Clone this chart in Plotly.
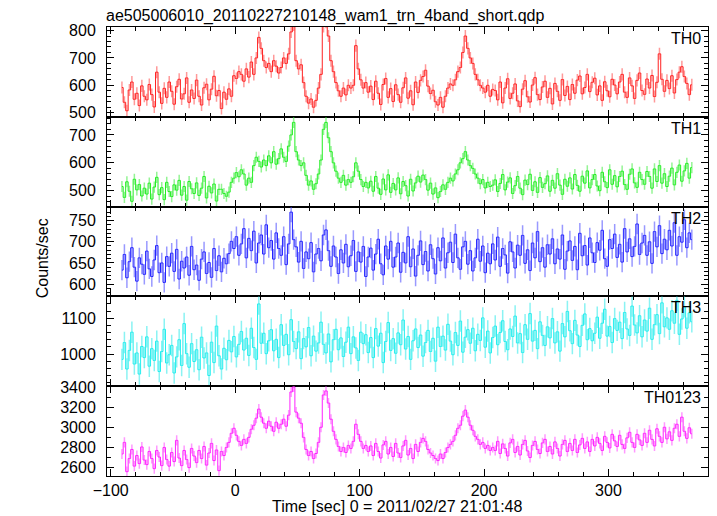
import plotly.graph_objects as go
from plotly.subplots import make_subplots

title_text = "ae505006010_20110227210148_wam1_trn_4band_short.qdp"
x_title = "Time [sec] 0 = 2011/02/27 21:01:48"
y_title = "Counts/sec"
band_names = ["TH0", "TH1", "TH2", "TH3", "TH0123"]

# time bins: first bin centre and bin width [sec]
t_first = -91
bin_width = 2

th0 = [
    592, 538, 507, 583, 612, 549, 571, 526, 598, 560,
    547, 603, 566, 521, 648, 575, 534, 589, 556, 612,
    578, 531, 595, 622, 550, 569, 627, 538, 583, 552,
    619, 560, 528, 591, 604, 547, 586, 633, 562, 581,
    515, 575, 549, 587, 560, 635, 625, 650, 640, 615,
    660, 630, 685, 640, 700, 775, 735, 690, 665, 680,
    650, 690, 670, 645, 665, 700, 680, 715, 795, 820,
    690, 660, 675, 610, 560, 535, 550, 520, 545, 590,
    640, 815, 830, 780, 690, 650, 610, 580, 560, 590,
    565, 600, 590, 600, 745, 660, 620, 590, 610, 575,
    597, 548, 615, 571, 530, 603, 625, 556, 588, 541,
    602, 566, 538, 591, 627, 553, 580, 529, 612, 574,
    618, 632, 655, 597, 570, 582, 540, 528, 556, 520,
    560, 590, 605, 600, 620, 650, 665, 720, 780, 735,
    700, 680, 640, 620, 600, 590, 575, 600, 560, 585,
    581, 547, 612, 536, 590, 624, 552, 571, 605, 543,
    522, 586, 617, 558, 539, 601, 628, 566, 548, 594,
    615, 556, 589, 532, 607, 578, 545, 621, 563, 596,
    548, 603, 571, 619, 634, 569, 592, 640, 577, 611,
    626, 565, 598, 545, 613, 580, 558, 622, 601, 569,
    612, 640, 575, 556, 627, 598, 552, 618, 645, 581,
    567, 623, 590, 636, 559, 611, 715, 622, 578, 618,
    588, 635, 572, 621, 648, 668, 632, 607, 566, 602,
]

th1 = [
    515, 476, 532, 498, 462, 541, 503, 522, 481, 509,
    488, 527, 470, 513, 548, 486, 511, 468, 530, 497,
    479, 521, 502, 537, 484, 515, 466, 533, 507, 490,
    528, 483, 509, 551, 474, 516, 492, 524, 463, 505,
    505, 490, 480, 495, 530, 545, 565, 550, 575, 560,
    520, 545, 530, 590, 620, 605, 585, 610, 590, 625,
    600, 640, 595, 615, 650, 620, 605, 660, 700, 745,
    640, 610, 590, 600, 555, 520, 535, 505, 525, 560,
    610, 720, 745, 690, 640, 600, 570, 545, 530, 555,
    520, 540, 530, 550, 600, 570, 540, 515, 530, 510,
    534, 498, 551, 509, 487, 542, 503, 557, 494, 526,
    503, 546, 489, 533, 518, 481, 541, 499, 528, 552,
    531, 556, 540, 502, 527, 488, 510, 475, 497, 521,
    505, 530, 545, 535, 560, 575, 600, 615, 640, 610,
    590, 580, 560, 545, 525, 540, 510, 530, 515, 520,
    539, 497, 526, 558, 503, 531, 546, 490, 518, 551,
    509, 486, 538, 522, 559, 501, 532, 494, 547, 512,
    525, 553, 498, 537, 509, 561, 520, 487, 541, 516,
    546, 506, 558, 519, 498, 552, 527, 571, 510, 540,
    558, 517, 500, 566, 532, 511, 575, 523, 554, 514,
    551, 570, 522, 505, 559, 578, 528, 512, 566, 540,
    523, 569, 551, 509, 578, 533, 590, 527, 561, 515,
    552, 581, 521, 566, 592, 534, 571, 598, 545, 583,
]

th2 = [
    633, 670, 615, 653, 686, 640, 607, 662, 647, 623,
    678, 636, 618, 657, 691, 627, 650, 604, 665, 642,
    673, 630, 682, 612, 654, 638, 664, 621, 689, 634,
    645, 609, 659, 676, 625, 651, 616, 684, 632, 667,
    629, 661, 648, 672, 701, 684, 712, 668, 695, 731,
    662, 708, 679, 725, 650, 697, 716, 671, 740, 686,
    703, 659, 721, 684, 668, 712, 646, 695, 770, 705,
    688, 652, 701, 637, 676, 660, 698, 629, 671, 684,
    655, 716, 728, 679, 642, 690, 664, 625, 681, 650,
    694, 641, 667, 703, 630, 676, 652, 689, 618, 664,
    685, 633, 671, 706, 648, 622, 690, 659, 701, 640,
    664, 697, 628, 675, 650, 712, 641, 683, 619, 668,
    702, 646, 677, 631, 693, 660, 624, 686, 655, 709,
    638, 674, 699, 651, 718, 662, 635, 688, 701, 647,
    679, 631, 662, 706, 654, 690, 627, 673, 648, 695,
    657, 711, 642, 684, 669, 626, 700, 676, 638, 692,
    668, 715, 649, 681, 632, 697, 662, 724, 653, 686,
    640, 693, 671, 707, 648, 683, 659, 716, 635, 678,
    702, 656, 689, 634, 720, 667, 691, 645, 709, 674,
    651, 698, 680, 727, 660, 642, 705, 684, 718, 663,
    694, 652, 731, 676, 707, 665, 689, 742, 670, 697,
    715, 668, 700, 649, 724, 688, 738, 672, 706, 681,
    727, 690, 745, 668, 712, 699, 752, 686, 721, 705,
]

th3 = [
    985, 1032, 958, 1010, 1061, 972, 1003, 944, 1021, 990,
    1048, 966, 1015, 982, 1036, 951, 1007, 1069, 975, 998,
    1024, 947, 992, 1040, 968, 1085, 1001, 963, 1029, 979,
    1012, 956, 1047, 989, 1003, 940, 1033, 976, 1078, 995,
    958, 1016, 984, 1038, 1006, 1049, 992, 1027, 1063, 1011,
    1044, 996, 1072, 1018, 985, 1140, 1030, 1058, 1001, 1037,
    1068, 1009, 1041, 990, 1082, 1024, 1055, 998, 1096, 1035,
    1015, 1062, 987, 1043, 1020, 1074, 995, 1050, 1008, 1031,
    1089, 1027, 1003, 1056, 978, 1040, 1069, 1012, 1045, 993,
    1033, 1075, 1001, 1048, 1017, 982, 1061, 1029, 1054, 1004,
    1046, 990, 1071, 1022, 1058, 976, 1035, 1088, 1010, 1043,
    1002, 1059, 1026, 1095, 1014, 1049, 985, 1037, 1070, 1018,
    1053, 994, 1032, 1066, 1007, 1044, 980, 1075, 1021, 1050,
    1011, 1083, 1036, 998, 1060, 1024, 1092, 1005, 1047, 1068,
    1030, 1072, 1009, 1055, 1038, 1101, 1019, 1064, 1003, 1046,
    1078, 1026, 1060, 1093, 1035, 1012, 1070, 1049, 1106, 1031,
    1057, 1004, 1082, 1041, 1113, 1036, 1066, 1015, 1090, 1052,
    1024, 1076, 1045, 1099, 1031, 1062, 1008, 1085, 1048, 1119,
    1065, 1029, 1094, 1053, 1021, 1080, 1112, 1040, 1071, 1037,
    1058, 1103, 1044, 1086, 1125, 1050, 1077, 1032, 1099, 1066,
    1089, 1043, 1116, 1070, 1052, 1134, 1081, 1059, 1107, 1048,
    1095, 1064, 1128, 1041, 1082, 1110, 1057, 1143, 1076, 1101,
    1069, 1121, 1086, 1150, 1055, 1098, 1132, 1072, 1115, 1090,
]

th0123 = [
    2735, 2850, 2560, 2690, 2780, 2615, 2720, 2640, 2805, 2675,
    2630, 2760, 2690, 2590, 2770, 2705, 2620, 2800, 2680, 2615,
    2750, 2660, 2870, 2695, 2620, 2770, 2680, 2600, 2790, 2715,
    2650, 2770, 2690, 2810, 2625, 2745, 2840, 2670, 2775, 2570,
    2760, 2720, 2800, 2850, 2940, 2990, 2920, 2860, 2820, 2880,
    2840, 2900, 2980, 3020, 3090, 3180, 3100, 3040, 2990, 3060,
    3010, 2960, 3050, 2990, 3030, 3080, 3010, 3120, 3350, 3400,
    3150, 3090, 3040, 2900, 2780, 2720, 2760, 2690, 2740, 2850,
    3000, 3320, 3360, 3240, 3080, 2960, 2880, 2810, 2760, 2800,
    2750, 2820, 2790, 2860, 3030, 2930, 2860, 2790, 2820, 2760,
    2815, 2720, 2840, 2760, 2695, 2825, 2860, 2735, 2800, 2710,
    2840, 2745, 2700, 2815, 2870, 2725, 2790, 2690, 2830, 2760,
    2850, 2890, 2860, 2780, 2745, 2720, 2690, 2670, 2735, 2690,
    2750, 2800, 2830, 2860, 2920, 2990, 3020, 3110, 3170, 3100,
    3020, 2970, 2910, 2880, 2830, 2850, 2790, 2820, 2770, 2800,
    2770, 2860, 2740, 2835, 2790, 2715, 2845, 2880, 2750, 2810,
    2725, 2830, 2870, 2765, 2700, 2820, 2860, 2780, 2740, 2845,
    2880, 2760, 2810, 2735, 2855, 2790, 2715, 2830, 2870, 2760,
    2840, 2770, 2880, 2750, 2825, 2890, 2790, 2855, 2760, 2880,
    2815, 2900, 2840, 2770, 2910, 2850, 2795, 2930, 2865, 2810,
    2920, 2830, 2790, 2895, 2950, 2850, 2800, 2930, 2875, 2820,
    2940, 2850, 2970, 2880, 2815, 2985, 2910, 2850, 3000, 2885,
    2955, 2870, 2990, 3030, 2910, 3100, 2960, 2890, 2995, 2935,
]

# typical half-length of the error bars per band (counts/sec)
err_half = [22, 20, 24, 30, 50]

y_ranges = [[485, 813], [443, 765], [571, 783], [910, 1161], [2517, 3407]]
y_dticks = [100, 100, 50, 100, 200]
y_minor = [20, 20, 10, 20, 100]
x_range = [-103, 380]

line_colors = ["#ff2222", "#22ee22", "#2222ff", "#22eeee", "#ff22ff"]
err_colors = ["rgba(255,70,70,0.55)", "rgba(60,235,60,0.55)", "rgba(70,70,255,0.55)",
              "rgba(60,235,235,0.6)", "rgba(255,70,255,0.55)"]

FONT = "Liberation Sans, Arial, Helvetica, sans-serif"

series = [th0, th1, th2, th3, th0123]
fig = make_subplots(rows=5, cols=1, shared_xaxes=True, vertical_spacing=0)

for i, vals in enumerate(series):
    row = i + 1
    times = [t_first + bin_width * k for k in range(len(vals))]
    fig.add_trace(go.Scatter(
        x=times, y=vals, mode="markers",
        marker=dict(size=1, opacity=0),
        error_y=dict(type="constant", value=err_half[i], color=err_colors[i],
                     thickness=1.5, width=0),
        hoverinfo="skip", showlegend=False), row=row, col=1)
    fig.add_trace(go.Scatter(
        x=times, y=vals, mode="lines",
        line=dict(color=line_colors[i], width=1, shape="hvh"),
        showlegend=False), row=row, col=1)

    fig.update_yaxes(
        row=row, col=1, range=y_ranges[i], dtick=y_dticks[i], tick0=0,
        ticks="inside", ticklen=7, tickwidth=1, tickcolor="black",
        minor=dict(dtick=y_minor[i], ticks="inside", ticklen=4,
                   tickwidth=1, tickcolor="black"),
        showline=True, linecolor="black", linewidth=1, mirror="allticks",
        showgrid=False, zeroline=False,
        tickfont=dict(family=FONT, size=16, color="black"),
        ticklabelstandoff=7)

fig.update_xaxes(
    range=x_range, dtick=100, tick0=0,
    ticks="inside", ticklen=7, tickwidth=1, tickcolor="black",
    minor=dict(dtick=20, ticks="inside", ticklen=4, tickwidth=1, tickcolor="black"),
    showline=True, linecolor="black", linewidth=1, mirror="allticks",
    showgrid=False, zeroline=False,
    tickfont=dict(family=FONT, size=16, color="black"),
    ticklabelstandoff=0)

annotations = [
    dict(text=title_text, xref="paper", yref="paper", x=0, y=1.0245, xshift=-3,
         xanchor="left", yanchor="middle", showarrow=False,
         font=dict(family=FONT, size=16, color="black")),
    dict(text=x_title, xref="paper", yref="paper", x=0.483, y=-0.068,
         xanchor="center", yanchor="middle", showarrow=False,
         font=dict(family=FONT, size=16, color="black")),
    dict(text=y_title, xref="paper", yref="paper", x=-0.108, y=0.485,
         xanchor="center", yanchor="middle", textangle=-90, showarrow=False,
         font=dict(family=FONT, size=16, color="black")),
]
for i, name in enumerate(band_names):
    yref = "y domain" if i == 0 else f"y{i + 1} domain"
    annotations.append(dict(
        text=name, xref="paper", yref=yref, x=1, y=1, xshift=-5, yshift=-1,
        xanchor="right", yanchor="top", showarrow=False,
        font=dict(family=FONT, size=16, color="black")))

# the page adds an 8 px body margin, so the figure is sized to fill the rest
fig.update_layout(
    width=709, height=508,
    margin=dict(l=99, r=9, t=19, b=40),
    paper_bgcolor="white", plot_bgcolor="white",
    annotations=annotations,
    showlegend=False,
)

fig.write_html("out.html")
